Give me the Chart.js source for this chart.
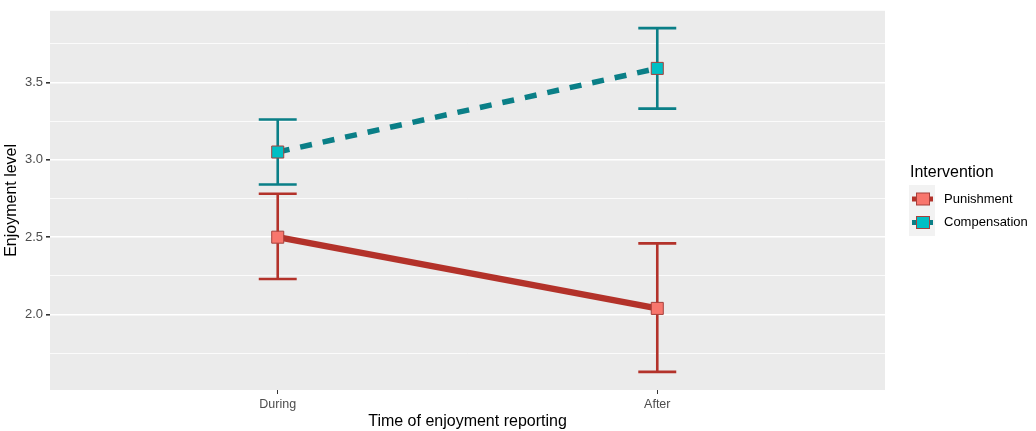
<!DOCTYPE html>
<html>
<head>
<meta charset="utf-8">
<script src="https://cdn.jsdelivr.net/npm/chart.js@4.4.1/dist/chart.umd.min.js"></script>
<style>
html, body { margin: 0; padding: 0; background: #ffffff; }
</style>
</head>
<body>
<canvas id="chart" width="1036" height="431"></canvas>
<script>
// data
var categories = ['During', 'After'];
var seriesNames = ['Punishment', 'Compensation'];
var punMean = [2.50, 2.04];
var punLow = [2.23, 1.63];
var punHigh = [2.78, 2.46];
var compMean = [3.05, 3.59];
var compLow = [2.84, 3.33];
var compHigh = [3.26, 3.85];
var yTickLabels = [2.0, 2.5, 3.0, 3.5];

var lineColors = ['#B3322A', '#0A7F87'];
var fillColors = ['#F8766D', '#00BFC4'];
var pointEdge = '#A5403C';
var FONT = '"Liberation Sans", Arial, sans-serif';

function toPoints(vals) {
    return vals.map(function (v, i) { return { x: i, y: v }; });
}

var errData = [
    { low: punLow, high: punHigh },
    { low: compLow, high: compHigh }
];

var panelBg = {
    id: 'panelBg',
    beforeDraw: function (chart) {
        var a = chart.chartArea, ctx = chart.ctx;
        ctx.save();
        ctx.fillStyle = '#EBEBEB';
        ctx.fillRect(a.left, a.top, a.right - a.left, a.bottom - a.top);
        ctx.restore();
    }
};

var errorBars = {
    id: 'errorBars',
    beforeDatasetsDraw: function (chart) {
        var ctx = chart.ctx, xs = chart.scales.x, ys = chart.scales.y;
        ctx.save();
        ctx.lineWidth = 2.6;
        errData.forEach(function (e, s) {
            ctx.strokeStyle = lineColors[s];
            for (var i = 0; i < categories.length; i++) {
                var x = xs.getPixelForValue(i);
                var x0 = xs.getPixelForValue(i - 0.05), x1 = xs.getPixelForValue(i + 0.05);
                var yl = ys.getPixelForValue(e.low[i]), yh = ys.getPixelForValue(e.high[i]);
                ctx.beginPath();
                ctx.moveTo(x, yl); ctx.lineTo(x, yh);
                ctx.moveTo(x0, yl); ctx.lineTo(x1, yl);
                ctx.moveTo(x0, yh); ctx.lineTo(x1, yh);
                ctx.stroke();
            }
        });
        ctx.restore();
    }
};

var sideLegend = {
    id: 'sideLegend',
    afterDraw: function (chart) {
        var ctx = chart.ctx;
        var left = chart.chartArea.right + 25;
        ctx.save();
        ctx.fillStyle = '#000000';
        ctx.font = '16px ' + FONT;
        ctx.textBaseline = 'alphabetic';
        ctx.fillText('Intervention', left, 177);
        ctx.fillStyle = '#F2F2F2';
        ctx.fillRect(left - 1, 185, 26, 51);
        seriesNames.forEach(function (name, s) {
            var cy = 199 + s * 23.5;
            ctx.strokeStyle = lineColors[s];
            ctx.lineWidth = 5;
            ctx.beginPath();
            ctx.moveTo(left + 2, cy); ctx.lineTo(left + 23, cy);
            ctx.stroke();
            ctx.fillStyle = fillColors[s];
            ctx.fillRect(left + 6.5, cy - 6, 13, 12);
            ctx.strokeStyle = pointEdge;
            ctx.lineWidth = 1;
            ctx.strokeRect(left + 6.5, cy - 6, 13, 12);
            ctx.fillStyle = '#000000';
            ctx.font = '13px ' + FONT;
            ctx.textBaseline = 'middle';
            ctx.fillText(name, left + 34, cy);
        });
        ctx.restore();
    }
};

var ctx = document.getElementById('chart').getContext('2d');
var chart = new Chart(ctx, {
    type: 'line',
    data: {
        datasets: [{
            label: seriesNames[0],
            data: toPoints(punMean),
            borderColor: lineColors[0],
            borderWidth: 6.5,
            pointStyle: 'rect',
            pointRadius: 8.5,
            pointBackgroundColor: fillColors[0],
            pointBorderColor: pointEdge,
            pointBorderWidth: 1
        }, {
            label: seriesNames[1],
            data: toPoints(compMean),
            borderColor: lineColors[1],
            borderWidth: 5.5,
            borderDash: [12, 11],
            pointStyle: 'rect',
            pointRadius: 8.5,
            pointBackgroundColor: fillColors[1],
            pointBorderColor: pointEdge,
            pointBorderWidth: 1
        }]
    },
    options: {
        responsive: false,
        animation: false,
        layout: { padding: { top: 8, right: 151, left: 0, bottom: 0 } },
        plugins: {
            legend: { display: false },
            tooltip: { enabled: false }
        },
        scales: {
            x: {
                type: 'linear',
                min: -0.6,
                max: 1.6,
                afterFit: function (s) { s.height = 41; },
                afterBuildTicks: function (s) {
                    s.ticks = categories.map(function (c, i) { return { value: i }; });
                },
                ticks: {
                    color: '#4D4D4D',
                    font: { family: FONT, size: 12.5 },
                    padding: 3,
                    maxRotation: 0,
                    autoSkip: false,
                    callback: function (v) { return categories[v]; }
                },
                grid: { drawOnChartArea: false, tickColor: '#333333', tickLength: 4, lineWidth: 1 },
                border: { display: false },
                title: {
                    display: true,
                    text: 'Time of enjoyment reporting',
                    color: '#000000',
                    font: { family: FONT, size: 16 },
                    padding: { top: 0, bottom: 0 }
                }
            },
            y: {
                min: 1.513,
                max: 3.962,
                afterFit: function (s) { s.width = 50; },
                ticks: {
                    stepSize: 0.25,
                    includeBounds: false,
                    autoSkip: false,
                    color: '#4D4D4D',
                    font: { family: FONT, size: 13 },
                    padding: 3,
                    callback: function (v) {
                        return yTickLabels.indexOf(v) >= 0 ? v.toFixed(1) : '';
                    }
                },
                grid: {
                    color: '#FFFFFF',
                    lineWidth: function (c) { return yTickLabels.indexOf(c.tick.value) >= 0 ? 1.6 : 0.8; },
                    tickColor: function (c) { return yTickLabels.indexOf(c.tick.value) >= 0 ? '#333333' : 'rgba(0,0,0,0)'; },
                    tickLength: 4
                },
                border: { display: false },
                title: {
                    display: true,
                    text: 'Enjoyment level',
                    color: '#000000',
                    font: { family: FONT, size: 16 },
                    padding: { top: 2, bottom: 2 }
                }
            }
        }
    },
    plugins: [panelBg, errorBars, sideLegend]
});
</script>
</body>
</html>
